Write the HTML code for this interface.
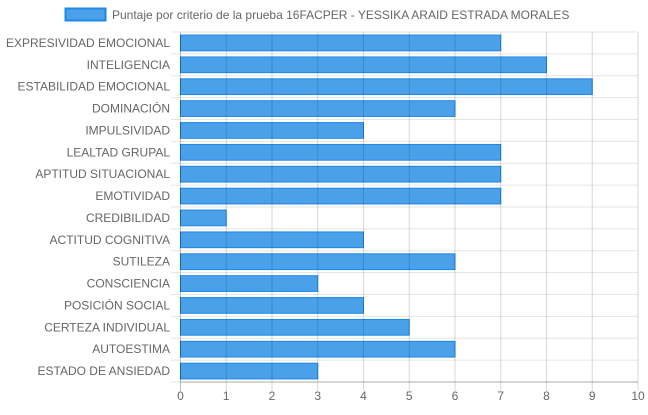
<!DOCTYPE html>
<html><head><meta charset="utf-8"><style>
body{margin:0;background:#fff;font-family:"Liberation Sans",sans-serif}
svg text{font-family:"Liberation Sans",sans-serif;fill:#666;font-size:12px}
</style></head><body>
<svg id="c" width="648" height="410"></svg>
<script>
const categories=["EXPRESIVIDAD EMOCIONAL","INTELIGENCIA","ESTABILIDAD EMOCIONAL","DOMINACIÓN","IMPULSIVIDAD","LEALTAD GRUPAL","APTITUD SITUACIONAL","EMOTIVIDAD","CREDIBILIDAD","ACTITUD COGNITIVA","SUTILEZA","CONSCIENCIA","POSICIÓN SOCIAL","CERTEZA INDIVIDUAL","AUTOESTIMA","ESTADO DE ANSIEDAD"];
const values=[7,8,9,6,4,7,7,7,1,4,6,3,4,5,6,3];
const ticks=[0,1,2,3,4,5,6,7,8,9,10];
const svg=document.getElementById('c');const NS='http://www.w3.org/2000/svg';
const L=180.5,R=638,T=32,B=382;
const x=v=>L+(v-0)/(10-0)*(R-L);
const band=(B-T)/categories.length;
const y=i=>T+i*band;
function mk(t,a,p){const e=document.createElementNS(NS,t);for(const k in a)e.setAttribute(k,a[k]);(p||svg).appendChild(e);return e;}
// legend
const lb=mk('rect',{x:65.5,y:8.5,width:40,height:12,fill:'rgba(30,136,229,0.8)',stroke:'#1e88e5','stroke-width':2});


const lt=mk('text',{x:112,y:19});lt.textContent='Puntaje por criterio de la prueba 16FACPER - YESSIKA ARAID ESTRADA MORALES';


// horizontal grid
for(let i=0;i<=categories.length;i++){
 const g=mk('line',{x1:171,x2:R,y1:y(i),y2:y(i),stroke:'rgba(0,0,0,0.1)'});
 
 
}
// bars
categories.forEach((c,i)=>{
 const h=15.75,cy=y(i)+band/2;
 const r=mk('rect',{x:x(0),y:cy-h/2,width:x(values[i])-x(0),height:h,fill:'rgba(30,136,229,0.8)',stroke:'#1e88e5','stroke-width':1});
 
 
 const t=mk('text',{x:170,y:cy+4,'text-anchor':'end'});t.textContent=c;
 
 
});
// vertical grid
ticks.forEach(v=>{
 const g=mk('line',{x1:x(v),x2:x(v),y1:T,y2:B+9,stroke:v===0?'rgba(0,0,0,0.25)':'rgba(0,0,0,0.15)'});
 
 
 const t=mk('text',{x:x(v),y:400,'text-anchor':'middle'});t.textContent=v;
 
 
});
const ax=mk('line',{x1:L,x2:R,y1:B,y2:B,stroke:'rgba(0,0,0,0.25)'});


</script>
</body></html>
